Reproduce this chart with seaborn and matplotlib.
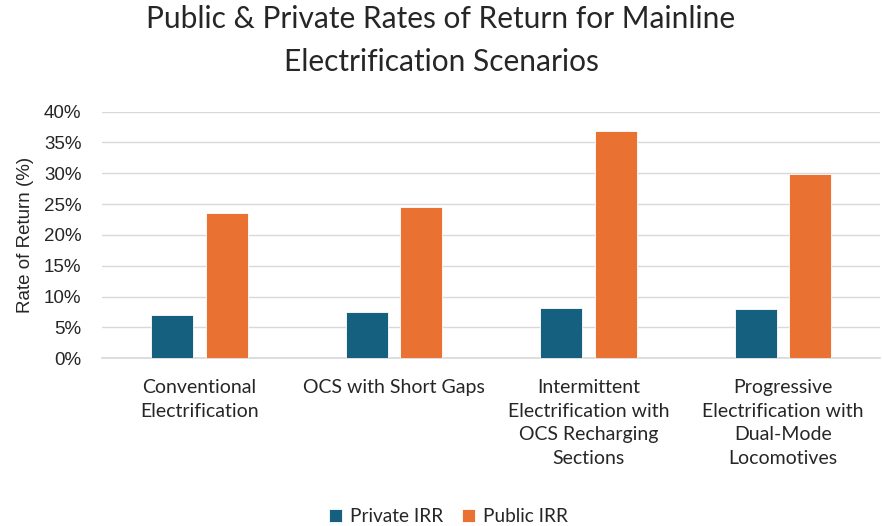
import pandas as pd
import numpy as np
import matplotlib
matplotlib.use("Agg")
import matplotlib.pyplot as plt
import seaborn as sns
from matplotlib.ticker import PercentFormatter

categories = [
    "Conventional\nElectrification",
    "OCS with Short Gaps",
    "Intermittent\nElectrification with\nOCS Recharging\nSections",
    "Progressive\nElectrification with\nDual-Mode\nLocomotives",
]
private_irr = [7.0, 7.5, 8.2, 8.0]
public_irr = [23.5, 24.5, 36.9, 29.9]
series = ["Private IRR", "Public IRR"]

df = pd.DataFrame({
    "Scenario": categories * 2,
    "Series": [series[0]] * 4 + [series[1]] * 4,
    "IRR": [v / 100 for v in private_irr + public_irr],
})

sns.set_theme(style="white")
plt.rcParams["font.family"] = ["Lato", "DejaVu Sans"]

fig = plt.figure(figsize=(8.82, 5.26), dpi=100)
ax = fig.add_axes([0.116, 0.319, 0.882, 0.469])

sns.barplot(
    data=df, x="Scenario", y="IRR", hue="Series",
    palette=["#16607F", "#E97132"], saturation=1, width=0.56, gap=0.23,
    edgecolor="white", linewidth=0.6, ax=ax, zorder=3,
)

ax.set_ylim(0, 0.40)
ax.set_yticks(np.arange(0, 0.41, 0.05))
ax.yaxis.set_major_formatter(PercentFormatter(1.0, decimals=0))
ax.grid(axis="y", color="#D9D9D9", linewidth=1.0, zorder=0)
ax.set_axisbelow(True)
for s in ["top", "right", "left"]:
    ax.spines[s].set_visible(False)
ax.spines["bottom"].set_color("#D9D9D9")
ax.tick_params(axis="both", length=0)
ax.tick_params(axis="y", labelsize=13.5, pad=15, labelcolor="#262626")
for t in ax.get_yticklabels():
    t.set_family("Liberation Sans")
ax.tick_params(axis="x", labelsize=14, pad=15, labelcolor="#262626")
for t in ax.get_xticklabels():
    t.set_verticalalignment("top")
    t.set_linespacing(1.48)

ax.set_xlabel("")
ax.set_ylabel("Rate of Return (%)", fontsize=13.5, family="Liberation Sans",
              color="#262626", labelpad=7)

fig.suptitle("Public & Private Rates of Return for Mainline\nElectrification Scenarios",
             y=0.99, fontsize=21.5, color="#262626", linespacing=1.65)

ax.legend(loc="lower center", bbox_to_anchor=(0.445, -0.745), ncol=2, frameon=False,
          fontsize=13.7, handlelength=0.7, handleheight=0.7, columnspacing=1.0,
          handletextpad=0.4)

fig.savefig("out.png", dpi=100)
